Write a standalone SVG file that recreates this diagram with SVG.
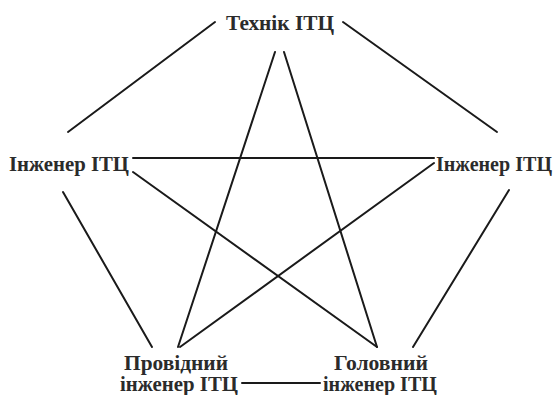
<svg xmlns="http://www.w3.org/2000/svg" width="559" height="395" viewBox="0 0 559 395">
<style>
text{font-family:"Liberation Serif","Times New Roman",serif;font-weight:bold;font-size:22px;fill:#2b2b2b;text-anchor:middle}
.s text{font-size:21px}
.b text{font-size:20px}
.c line{stroke:#1a1a1a;stroke-width:2;stroke-linecap:round}
</style>
<rect width="559" height="395" fill="#fff"/>
<g class="c" id="connectors">
<line x1="215" y1="22" x2="68" y2="132"/>
<line x1="343" y1="22" x2="497" y2="132"/>
<line x1="275" y1="52" x2="178" y2="347"/>
<line x1="284" y1="52" x2="377" y2="347"/>
<line x1="133" y1="158" x2="434" y2="158"/>
<line x1="133" y1="172" x2="377" y2="347"/>
<line x1="434" y1="163" x2="180" y2="347"/>
<line x1="63" y1="192" x2="152" y2="347"/>
<line x1="509" y1="190" x2="413" y2="347"/>
<line x1="242" y1="383" x2="320" y2="383"/>
</g>
<g id="n-top"><text x="280" y="30" textLength="108" lengthAdjust="spacingAndGlyphs">Технік ІТЦ</text></g>
<g id="n-left" class="s"><text x="69" y="171" textLength="120" lengthAdjust="spacingAndGlyphs">Інженер ІТЦ</text></g>
<g id="n-right" class="s"><text x="494" y="171" textLength="116" lengthAdjust="spacingAndGlyphs">Інженер ІТЦ</text></g>
<g id="n-bl" class="b"><text x="176" y="370" textLength="104" lengthAdjust="spacingAndGlyphs">Провідний</text><text x="179" y="391" textLength="118" lengthAdjust="spacingAndGlyphs">інженер ІТЦ</text></g>
<g id="n-br" class="b"><text x="381" y="370" textLength="94" lengthAdjust="spacingAndGlyphs">Головний</text><text x="380" y="391" textLength="114" lengthAdjust="spacingAndGlyphs">інженер ІТЦ</text></g>
</svg>
